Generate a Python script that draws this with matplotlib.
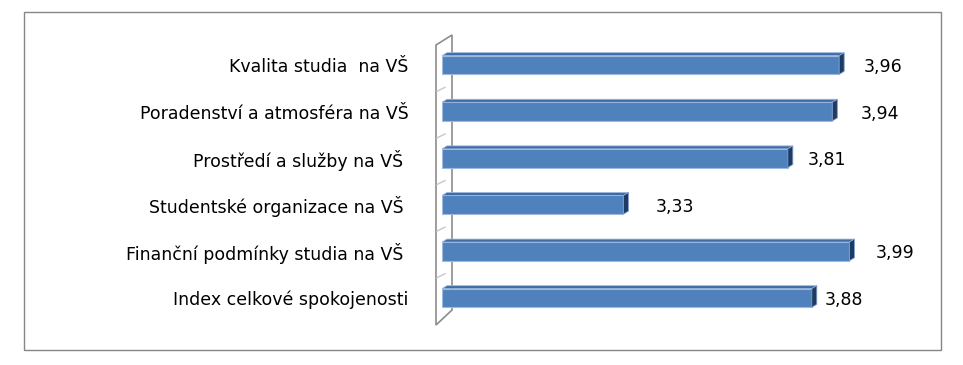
import matplotlib.pyplot as plt
import numpy as np
from matplotlib.patches import Polygon, Rectangle
from matplotlib.transforms import IdentityTransform

# data
labels = ['Kvalita studia  na VŠ', 'Poradenství a atmosféra na VŠ', 'Prostředí a služby na VŠ ',
          'Studentské organizace na VŠ ', 'Finanční podmínky studia na VŠ ', 'Index celkové spokojenosti']
values = [3.96, 3.94, 3.81, 3.33, 3.99, 3.88]
label_dx = [25, 28, 20, 32, 26, 13]   # label offsets (px) as placed in the original

plt.rcParams['font.family'] = ['Verdana', 'DejaVu Sans']

fig = plt.figure(figsize=(9.63, 3.65), dpi=100)
W, H = 963, 365
ax = fig.add_axes([442 / W, 1 - 321.3 / H, (900 - 442) / W, (321.3 - 41.7) / H])

base = 2.8
h = 0.4
y = np.arange(len(values))
ax.set_xlim(base, base + (900 - 442) / 342.4)
ax.set_ylim(5.5, -0.5)

# back wall
def px(x, yy):
    return (x, H - yy)
wall = Polygon([px(436, 45), px(452, 35), px(452, 310), px(436, 325)], closed=True,
               facecolor='white', edgecolor='#8c8c8c', lw=1.2, transform=IdentityTransform(), zorder=-2)
fig.patches.append(wall)
for b in np.arange(0.5, 5.5, 1.0):
    yb = ax.transData.transform((base, b))[1]
    fig.lines.append(plt.Line2D([437, 445], [yb - 3, yb + 1], color='#c8c8c8', lw=1,
                                transform=IdentityTransform(), zorder=-1))

ax.barh(y, np.array(values) - base, left=base, height=h, color='#4F81BD',
        edgecolor='#9DB9DC', lw=0.8, zorder=3)

# 3d faces
d = np.array([5, 3])
for yi, v in zip(y, values):
    tl = ax.transData.transform((base, yi - h / 2))
    tr = ax.transData.transform((v, yi - h / 2))
    br = ax.transData.transform((v, yi + h / 2))
    top = Polygon([tl, tr, tr + d, tl + d], closed=True, facecolor='#3E6CA8',
                  edgecolor='#9DB9DC', lw=0.6, transform=IdentityTransform(), zorder=4)
    end = Polygon([tr, br, br + d, tr + d], closed=True, facecolor='#1F3B63',
                  edgecolor='#7FA0CC', lw=0.6, transform=IdentityTransform(), zorder=4)
    ax.add_artist(top)
    ax.add_artist(end)

for yi, v, dx in zip(y, values, label_dx):
    ax.annotate(f'{v:.2f}'.replace('.', ','), (v, yi), xytext=(dx, -2), textcoords='offset pixels',
                ha='left', va='center', fontsize=12.5, color='black')

ax.set_yticks(y)
ax.set_yticklabels(labels, fontsize=12.5, va='top')
for t in ax.get_yticklabels():
    t.set_y(t.get_position()[1])
ax.tick_params(axis='y', length=0, pad=24)
ax.set_xticks([])
for s in ax.spines.values():
    s.set_visible(False)
ax.patch.set_alpha(0)
# nudge tick labels a touch lower, as in the original
import matplotlib.transforms as mtransforms
shift = mtransforms.ScaledTranslation(0, -2 / 100, fig.dpi_scale_trans)
for t in ax.get_yticklabels():
    t.set_verticalalignment('center')
    t.set_transform(t.get_transform() + shift)

# outer frame
fig.patches.append(Rectangle((24 / W, 1 - 350 / H), (941 - 24) / W, (350 - 12) / H, fill=False,
                             edgecolor='#868686', lw=1.0, transform=fig.transFigure))

fig.savefig('out.png', dpi=100)
